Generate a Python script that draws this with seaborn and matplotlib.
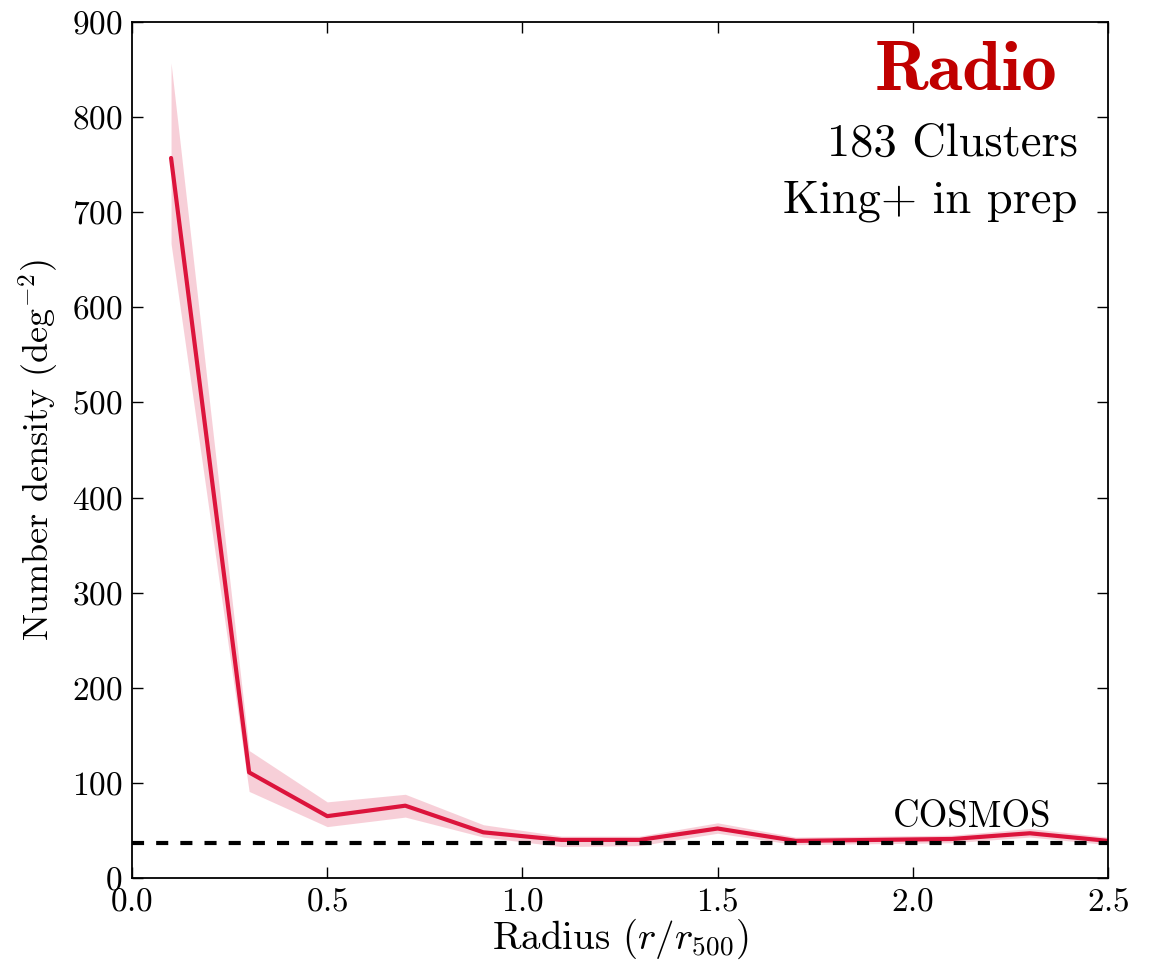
import numpy as np
import pandas as pd
import matplotlib
matplotlib.use("Agg")
import matplotlib.pyplot as plt
import seaborn as sns

radius = [0.1, 0.3, 0.5, 0.7, 0.9, 1.1, 1.3, 1.5, 1.7, 1.9, 2.1, 2.3, 2.5]
density = [757, 111, 65, 76, 48, 40, 40, 52, 39, 40, 41, 47, 39]
upper = [857, 134, 80, 88, 56, 44, 44, 58, 43, 44, 45, 52, 43]
lower = [667, 91, 54, 64, 43, 33, 34, 47, 35, 36, 37, 43, 35]
cosmos_level = 37

sns.set_theme(style="ticks")
plt.rcParams.update({
    "font.family": "serif",
    "font.serif": ["cmr10"],
    "mathtext.fontset": "cm",
    "axes.formatter.use_mathtext": True,
    "axes.unicode_minus": False,
    "text.color": "black",
    "axes.labelcolor": "black",
    "xtick.color": "black",
    "ytick.color": "black",
})

df = pd.DataFrame({"radius": radius, "density": density})

fig = plt.figure(figsize=(11.58, 9.68), dpi=100)
ax = fig.add_axes([0.114, 0.093, 0.8428, 0.8843])

ax.fill_between(radius, lower, upper, color="#f4b6c4", alpha=0.65, linewidth=0)
sns.lineplot(data=df, x="radius", y="density", ax=ax, color="#dc143c", linewidth=3)
ax.axhline(cosmos_level, color="black", linestyle=(0, (2.9, 2.9)), linewidth=3)

ax.set_xlim(0, 2.5)
ax.set_ylim(0, 900)
ax.set_xticks([0.0, 0.5, 1.0, 1.5, 2.0, 2.5])
ax.set_yticks(np.arange(0, 901, 100))
ax.tick_params(direction="in", top=True, right=True, length=8, width=1, labelsize=24, pad=7)
for s in ax.spines.values():
    s.set_linewidth(1.3)
    s.set_color("black")

ax.set_xlabel(r"Radius $(r/r_{500})$", fontsize=28, labelpad=0)
ax.set_ylabel(r"Number density (deg$^{-2}$)", fontsize=26, labelpad=8)

ax.text(0.948, 0.9206, "Radio", transform=ax.transAxes, ha="right", va="baseline",
        fontsize=51, color="#c00000", family="cmb10")
ax.text(0.969, 0.844, "183 Clusters", transform=ax.transAxes, ha="right", va="baseline",
        fontsize=33.5, color="black")
ax.text(0.969, 0.778, "King+ in prep", transform=ax.transAxes, ha="right", va="baseline",
        fontsize=33.5, color="black")
ax.text(2.152, 53.5, "COSMOS", ha="center", va="baseline", fontsize=26.5, color="black")

fig.savefig("out.png", dpi=100)
